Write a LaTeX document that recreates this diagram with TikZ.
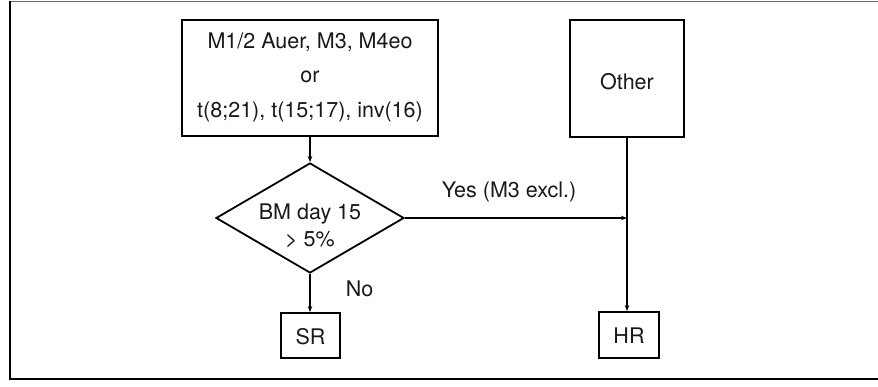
\documentclass[tikz,border=0pt]{standalone}
\usepackage{fontspec}
\setmainfont{TeX Gyre Heros}
\usetikzlibrary{shapes.geometric,arrows.meta}
\begin{document}
\begin{tikzpicture}[x=1pt,y=-1pt,
  every node/.style={font=\fontsize{21.5}{26}\selectfont},
  box/.style={draw, line width=1.8pt, inner sep=0pt},
  decision/.style={draw, diamond, line width=1.8pt, inner sep=0pt,
    minimum width=188pt, minimum height=110pt, aspect=1.71},
  conn/.style={line width=1.2pt, -{Stealth[length=6pt,width=4.5pt]}},
  lbl/.style={anchor=base, inner sep=0pt, text=black!90}]
\useasboundingbox (0,0) rectangle (878,387);
% open frame
\draw[line width=0.8pt, black!60] (10,1.5) -- (878,1.5);
\draw[line width=2.5pt] (10,1) -- (10,379) -- (878,379);

% boxes
\node[box, minimum width=256pt, minimum height=116pt] (groupA) at (310,78) {};
\node[lbl] (groupAl1) at (310,49) {M1/2 Auer, M3, M4eo};
\node[lbl] (groupAl2) at (310,83) {or};
\node[lbl] (groupAl3) at (310,118) {t(8;21), t(15;17), inv(16)};

\node[box, minimum width=114pt, minimum height=117pt] (other) at (627,78.5) {};
\node[lbl] (otherl) at (627,90) {Other};

\node[decision] (dec) at (310,218) {};
\node[lbl] (decl1) at (310,220) {BM day 15};
\node[lbl] (decl2) at (310,247) {> 5\%};

\node[box, minimum width=59pt, minimum height=45pt] (sr) at (310.5,335.5) {};
\node[lbl] (srl) at (310.5,344) {SR};

\node[box, minimum width=60pt, minimum height=46pt] (hr) at (629,335) {};
\node[lbl] (hrl) at (629,343) {HR};

% connectors
\coordinate (join) at (other.south |- dec.east);
\draw[conn] (groupA.south) -- (dec.north);
\draw[conn] (dec.east) -- (join);
\draw[conn] (other.south) -- (other.south |- hr.north);
\draw[conn] (dec.south) -- (dec.south |- sr.north);

% branch labels
\node[lbl] (yes) at (509,198) {Yes (M3 excl.)};
\node[lbl] (no) at (359.5,297) {No};
\end{tikzpicture}
\end{document}
